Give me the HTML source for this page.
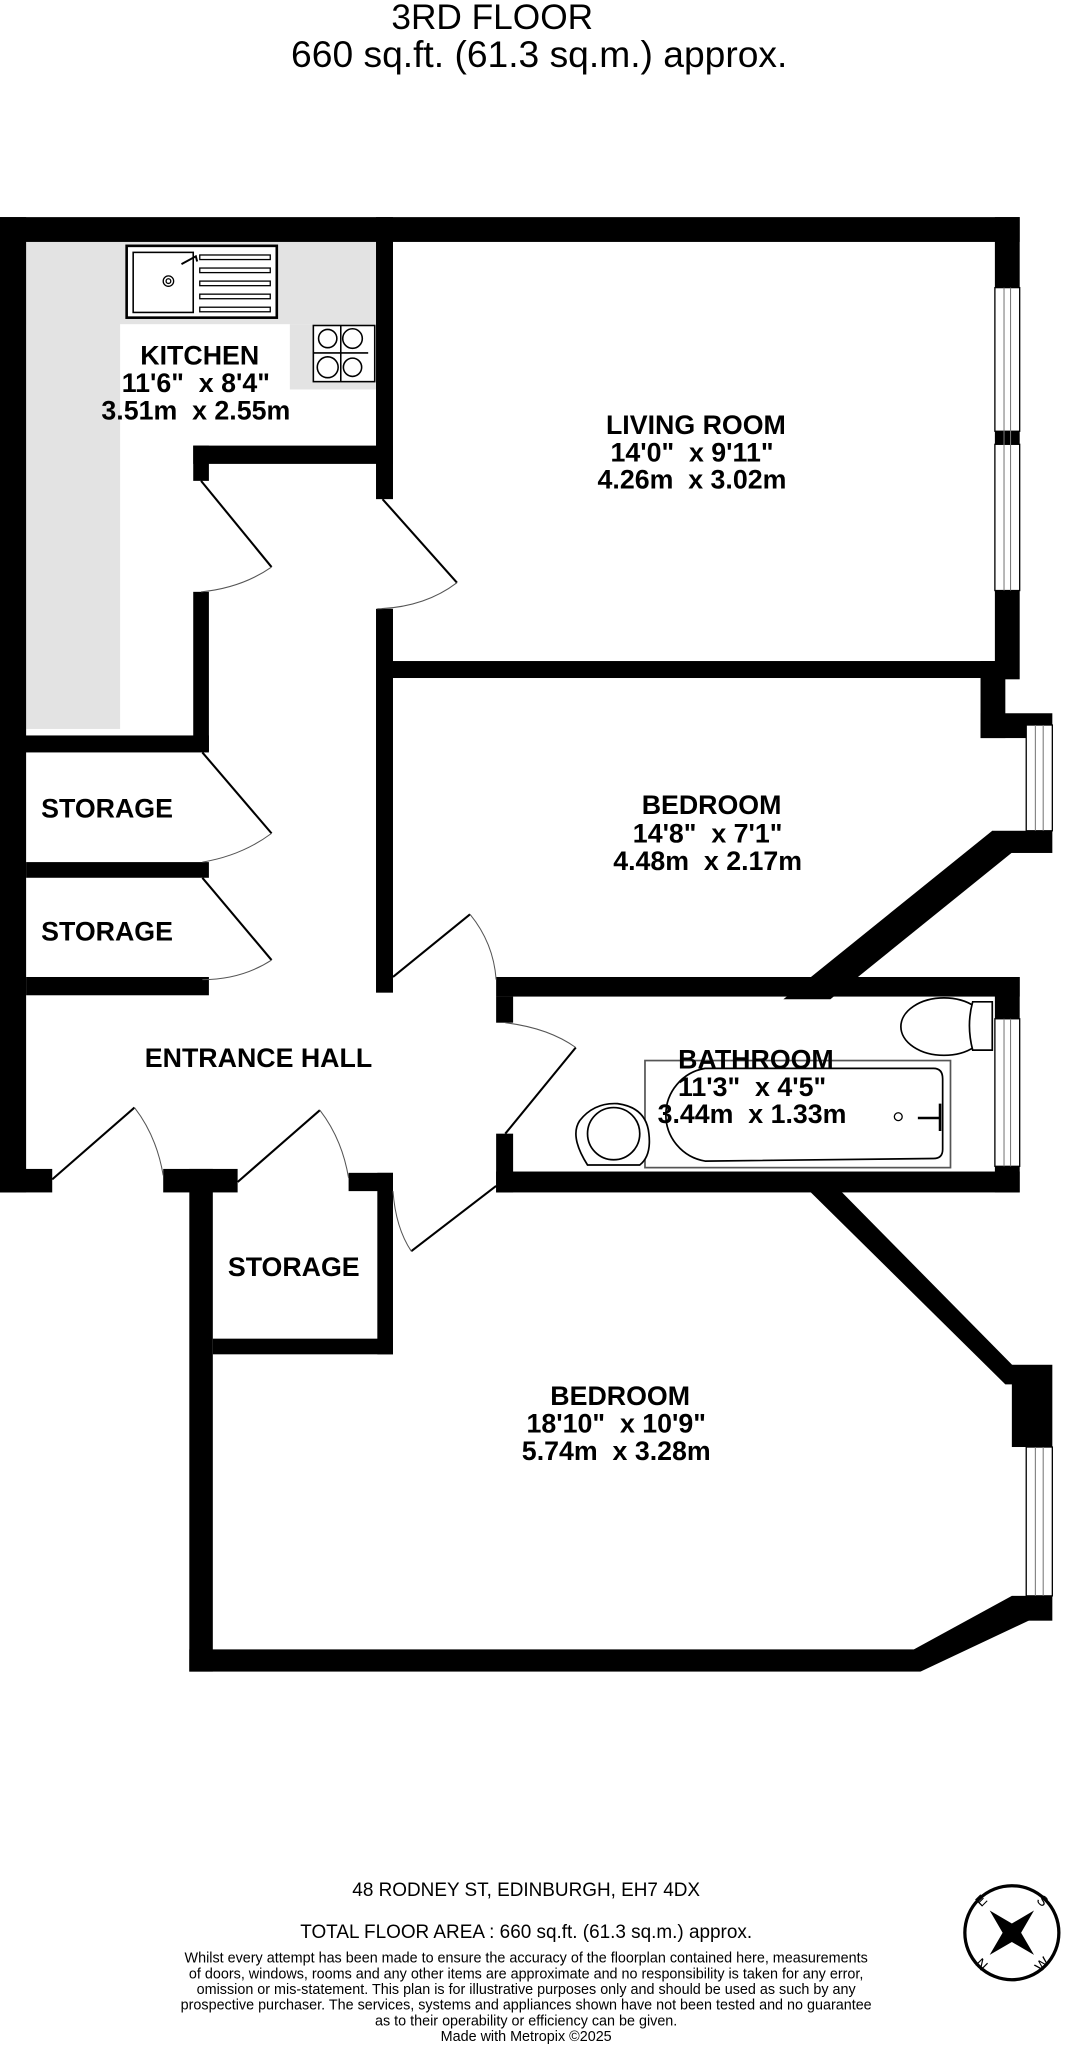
<!DOCTYPE html>
<html><head><meta charset="utf-8"><style>
html,body{margin:0;padding:0;background:#fff;}
svg{display:block;}
text{font-family:"Liberation Sans",Arial,sans-serif;fill:#000;white-space:pre;}
.r{font-weight:bold;font-size:20.5px;text-anchor:middle;}
.s{font-size:11px;text-anchor:middle;}
.f{font-size:14.5px;text-anchor:middle;}
</style></head><body>
<svg width="1068" height="2048" viewBox="0 0 818 1568" xmlns="http://www.w3.org/2000/svg" xml:space="preserve">
<rect width="818" height="1568" fill="#fff"/>
<text x="377" y="22" font-size="27" text-anchor="middle">3RD FLOOR</text>
<text x="413" y="51" font-size="28.5" text-anchor="middle">660 sq.ft. (61.3 sq.m.) approx.</text>

<rect x="20" y="185" width="72" height="373" fill="#e3e3e3"/>
<rect x="20" y="185" width="268" height="63" fill="#e3e3e3"/>
<rect x="222" y="248" width="66" height="50" fill="#e3e3e3"/>
<rect x="97" y="188" width="115" height="55" fill="#fff" stroke="#000" stroke-width="2"/>
<rect x="102" y="193" width="46" height="46" fill="none" stroke="#000" stroke-width="1.2"/>
<circle cx="129" cy="215" r="4" fill="none" stroke="#000"/><circle cx="129" cy="215" r="1.8" fill="none" stroke="#000"/>
<path d="M139 202 L150 196 L151 200" fill="none" stroke="#000" stroke-width="1.5"/>
<g fill="none" stroke="#000" stroke-width="1"><rect x="153" y="195" width="54" height="3.5"/><rect x="153" y="205" width="54" height="3.5"/><rect x="153" y="215" width="54" height="3.5"/><rect x="153" y="225" width="54" height="3.5"/><rect x="153" y="235" width="54" height="3.5"/></g>
<g fill="none" stroke="#000" stroke-width="1.2"><rect x="240" y="249" width="47" height="43" fill="#fff"/>
<circle cx="251" cy="259" r="7"/><circle cx="270" cy="259" r="7.5"/><circle cx="251" cy="281" r="8"/><circle cx="270" cy="281" r="7"/>
<line x1="240" y1="270" x2="282" y2="270"/><line x1="261" y1="249" x2="261" y2="292"/></g>

<g fill="#000">
<rect x="0" y="166" width="781" height="19"/>
<rect x="0" y="166" width="20" height="747"/>
<rect x="288" y="166" width="13" height="216"/>
<rect x="148" y="341" width="153" height="14"/>
<rect x="148" y="341" width="12" height="27"/>
<rect x="148" y="453" width="12" height="122"/>
<rect x="288" y="466" width="13" height="294"/>
<rect x="762" y="166" width="19" height="54"/>
<rect x="762" y="330" width="19" height="10"/>
<rect x="762" y="452" width="19" height="68"/>
<rect x="301" y="506" width="461" height="13"/>
<rect x="751" y="506" width="19" height="59"/>
<rect x="751" y="546" width="55" height="19"/>
<rect x="760" y="636" width="46" height="17"/>
<polygon points="760,636 776,652 636,765 600,765"/>
<rect x="380" y="748" width="401" height="15"/>
<rect x="762" y="748" width="19" height="32"/>
<rect x="380" y="763" width="13" height="20"/>
<rect x="380" y="868" width="13" height="45"/>
<rect x="380" y="897" width="401" height="16"/>
<rect x="762" y="893" width="19" height="20"/>
<rect x="0" y="563" width="160" height="13"/>
<rect x="20" y="660" width="140" height="12"/>
<rect x="20" y="748" width="140" height="14"/>
<rect x="0" y="895" width="40" height="18"/>
<rect x="125" y="895" width="57" height="18"/>
<rect x="145" y="895" width="18" height="385"/>
<rect x="267" y="898" width="34" height="14"/>
<rect x="289" y="898" width="12" height="139"/>
<rect x="163" y="1025" width="138" height="12"/>
<polygon points="618,910 642,910 790,1060 770,1060"/>
<rect x="775" y="1045" width="31" height="63"/>
<rect x="775" y="1222" width="31" height="19"/>
<polygon points="775,1222 790,1240 705,1280 700,1263"/>
<rect x="145" y="1263" width="560" height="17"/>
</g>
<g fill="#fff" stroke="#000" stroke-width="1"><rect x="762" y="220" width="19" height="110"/><rect x="762" y="340" width="19" height="112"/>
<rect x="786" y="555" width="20" height="81"/><rect x="762" y="780" width="19" height="113"/><rect x="786" y="1108" width="20" height="114"/></g>
<g stroke="#777" stroke-width="0.8"><line x1="769" y1="220" x2="769" y2="452"/><line x1="774" y1="220" x2="774" y2="452"/>
<line x1="793" y1="555" x2="793" y2="636"/><line x1="799" y1="555" x2="799" y2="636"/>
<line x1="769" y1="780" x2="769" y2="893"/><line x1="774" y1="780" x2="774" y2="893"/>
<line x1="793" y1="1108" x2="793" y2="1222"/><line x1="799" y1="1108" x2="799" y2="1222"/></g>

<g fill="none" stroke="#000" stroke-width="1.6">
<line x1="154" y1="368" x2="208" y2="434"/><line x1="293" y1="382" x2="350" y2="446"/>
<line x1="155" y1="576" x2="208" y2="638"/><line x1="155" y1="672" x2="208" y2="735"/>
<line x1="301" y1="748" x2="360" y2="700"/><line x1="441" y1="802" x2="387" y2="868"/>
<line x1="40" y1="903" x2="103" y2="848"/><line x1="182" y1="905" x2="245" y2="850"/>
<line x1="315" y1="958" x2="380" y2="908"/>
</g>
<g fill="none" stroke="#555" stroke-width="0.8">
<path d="M208 434 Q185 450 154 453"/><path d="M350 446 Q325 465 289 466"/>
<path d="M208 638 Q185 655 155 660"/><path d="M208 735 Q185 750 155 750"/>
<path d="M360 700 Q378 722 380 750"/><path d="M387 783 Q420 787 441 802"/>
<path d="M103 848 Q120 870 125 900"/><path d="M245 850 Q262 872 267 902"/>
<path d="M301 912 Q303 940 315 958"/>
</g>

<g fill="#fff" stroke="#000" stroke-width="1.3">
<rect x="494" y="812" width="234" height="82" stroke="#555"/>
<path d="M540 818 L715 818 Q722 818 722 826 L722 880 Q722 887 715 887 L540 889 A36 36 0 0 1 540 818Z"/>
<ellipse cx="723" cy="786" rx="33" ry="22"/><path d="M745 767 Q740 785 745 804 L760 804 L760 767Z"/>
<path d="M450 892 Q436 870 444 858 Q455 844 473 845 Q495 848 497 868 Q499 885 490 892Z"/>
<circle cx="470" cy="868" r="20" fill="none"/>
</g>
<circle cx="688" cy="855" r="3" fill="none" stroke="#000"/>
<path d="M703 856 L720 856 M720 845 L720 866" stroke="#000" stroke-width="2" fill="none"/>

<text class="r" x="153" y="279">KITCHEN</text>
<text class="r" x="150" y="300">11'6"  x 8'4"</text>
<text class="r" x="150" y="321">3.51m  x 2.55m</text>
<text class="r" x="533" y="332">LIVING ROOM</text>
<text class="r" x="530" y="353">14'0"  x 9'11"</text>
<text class="r" x="530" y="374">4.26m  x 3.02m</text>
<text class="r" x="545" y="623">BEDROOM</text>
<text class="r" x="542" y="645">14'8"  x 7'1"</text>
<text class="r" x="542" y="666">4.48m  x 2.17m</text>
<text class="r" x="82" y="626">STORAGE</text>
<text class="r" x="82" y="720">STORAGE</text>
<text class="r" x="198" y="817">ENTRANCE HALL</text>
<text class="r" x="579" y="818">BATHROOM</text>
<text class="r" x="576" y="839">11'3"  x 4'5"</text>
<text class="r" x="576" y="860">3.44m  x 1.33m</text>
<text class="r" x="225" y="977">STORAGE</text>
<text class="r" x="475" y="1076">BEDROOM</text>
<text class="r" x="472" y="1097">18'10"  x 10'9"</text>
<text class="r" x="472" y="1118">5.74m  x 3.28m</text>

<text class="f" x="403" y="1452">48 RODNEY ST, EDINBURGH, EH7 4DX</text>
<text class="f" x="403" y="1484">TOTAL FLOOR AREA : 660 sq.ft. (61.3 sq.m.) approx.</text>
<text class="s" x="403" y="1503">Whilst every attempt has been made to ensure the accuracy of the floorplan contained here, measurements</text>
<text class="s" x="403" y="1515">of doors, windows, rooms and any other items are approximate and no responsibility is taken for any error,</text>
<text class="s" x="403" y="1527">omission or mis-statement. This plan is for illustrative purposes only and should be used as such by any</text>
<text class="s" x="403" y="1539">prospective purchaser. The services, systems and appliances shown have not been tested and no guarantee</text>
<text class="s" x="403" y="1551">as to their operability or efficiency can be given.</text>
<text class="s" x="403" y="1563">Made with Metropix ©2025</text>

<g transform="translate(775,1480)">
<circle r="36" fill="none" stroke="#000" stroke-width="2.5"/>
<g transform="rotate(-45)"><polygon points="0,-24 5,-5 24,0 5,5 0,24 -5,5 -24,0 -5,-5" fill="#000"/></g>
<text x="-23" y="-21" font-size="11" text-anchor="middle" transform="rotate(-45 -23 -24)">E</text>
<text x="23" y="-21" font-size="11" text-anchor="middle" transform="rotate(45 23 -24)">S</text>
<text x="-23" y="28" font-size="11" text-anchor="middle" transform="rotate(45 -23 24)">N</text>
<text x="23" y="28" font-size="11" text-anchor="middle" transform="rotate(-45 23 24)">W</text>
</g>
</svg>
</body></html>
